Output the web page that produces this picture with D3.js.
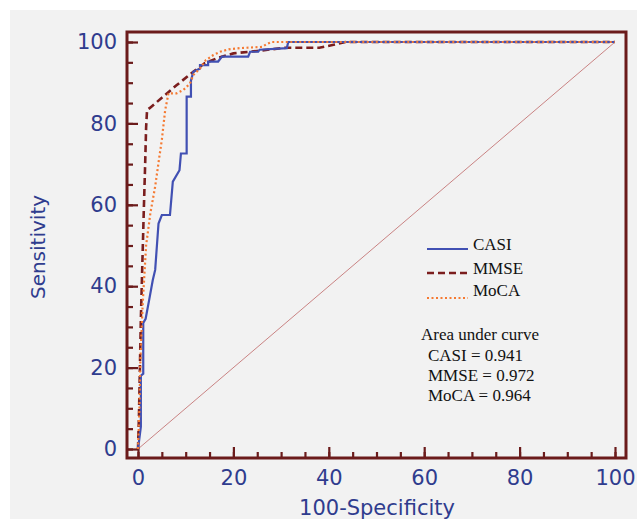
<!DOCTYPE html>
<html lang="en">
<head>
<meta charset="UTF-8">
<title>ROC curves: CASI, MMSE, MoCA</title>
<script src="https://d3js.org/d3.v7.min.js"></script>
<style>
  body { margin: 0; background: #ffffff; }
  .tick text { font-family: "DejaVu Sans", Verdana, sans-serif; font-size: 21px; fill: #2f3c8e; }
  .tick line { stroke: #6b1b1b; stroke-width: 2.2; }
</style>
</head>
<body>
<svg id="chart" width="637" height="519"></svg>
<script>
// 100-specificity (x) and sensitivity (y)
var casiX = [0, 0.6, 0.6, 1.1, 1.1, 1.6, 2.4, 3.1, 3.6, 4.3, 5.0, 6.7, 7.3, 8.7, 9.0, 10.2, 10.2, 11.1, 11.1, 11.6, 13.0, 13.0, 14.7, 14.7, 16.8, 17.6, 23.1, 23.5, 25.2, 25.5, 31.2, 31.5, 100];
var casiY = [0, 5.5, 18, 18.5, 31, 32, 37, 41.5, 44, 55.4, 57.5, 57.5, 65.7, 68.5, 72.6, 72.6, 86.6, 86.6, 90.5, 92.7, 93.5, 94.3, 94.3, 95.2, 95.2, 96.4, 96.4, 97.6, 97.6, 98.1, 98.5, 100, 100];

var mmseX = [0, 0.2, 0.4, 0.6, 0.9, 1.2, 1.5, 1.7, 1.9, 2.5, 5, 8, 11.6, 14, 17, 20, 25, 31, 38, 41, 43.5, 100];
var mmseY = [0, 8, 20, 32, 45, 58, 70, 79, 83.3, 83.8, 86.3, 89.3, 92.7, 94.8, 96.2, 97.2, 97.8, 98.6, 98.6, 99.3, 100, 100];

var mocaX = [0, 0.3, 0.5, 1.0, 1.7, 2.6, 3.6, 4.5, 5.0, 5.7, 6.4, 8.1, 9.5, 10.9, 11.6, 13.0, 14.2, 15.8, 17.2, 19.0, 21.4, 26, 27, 28, 100];
var mocaY = [0, 10, 22, 36, 50, 58, 64.5, 72, 76, 83.3, 87.4, 87.4, 88.2, 89.8, 91.9, 93.5, 95.5, 96.8, 97.6, 98.2, 98.5, 98.8, 99.5, 100, 100];

var seriesNames = ["CASI", "MMSE", "MoCA"];
var aucValues = ["0.941", "0.972", "0.964"];
var majorTicks = [0, 20, 40, 60, 80, 100];
var minorTicks = d3.range(0, 101, 5);

var svg = d3.select("#chart");

// grey backdrop
svg.append("rect")
  .attr("x", 10).attr("y", 10)
  .attr("width", 627).attr("height", 509)
  .attr("fill", "#f2f2f2");

var x = d3.scaleLinear().domain([0, 100]).range([138, 615]);
var y = d3.scaleLinear().domain([0, 100]).range([449, 42]);

var frame = { left: 127, top: 32, right: 626, bottom: 458 };

// minor ticks
svg.append("g")
  .attr("transform", "translate(" + frame.left + ",0)")
  .call(d3.axisLeft(y).tickValues(minorTicks).tickSize(-6).tickFormat(""))
  .call(function (g) { g.select(".domain").remove(); });
svg.append("g")
  .attr("transform", "translate(0," + frame.bottom + ")")
  .call(d3.axisBottom(x).tickValues(minorTicks).tickSize(-6).tickFormat(""))
  .call(function (g) { g.select(".domain").remove(); });

// major ticks with labels
svg.append("g")
  .attr("transform", "translate(" + frame.left + ",0)")
  .call(d3.axisLeft(y).tickValues(majorTicks).tickSize(-11).tickPadding(10))
  .call(function (g) { g.select(".domain").remove(); });
svg.append("g")
  .attr("transform", "translate(0," + frame.bottom + ")")
  .call(d3.axisBottom(x).tickValues(majorTicks).tickSize(-11).tickPadding(12))
  .call(function (g) { g.select(".domain").remove(); });

// chance diagonal
svg.append("line")
  .attr("x1", x(0)).attr("y1", y(0))
  .attr("x2", x(100)).attr("y2", y(100))
  .attr("stroke", "#c98383")
  .attr("stroke-width", 1);

var line = d3.line()
  .x(function (d) { return x(d[0]); })
  .y(function (d) { return y(d[1]); });

function pairs(xs, ys) {
  return xs.map(function (v, i) { return [v, ys[i]]; });
}

var styles = {
  CASI: { color: "#4150b3", width: 2.2, dash: null },
  MMSE: { color: "#7b1e1e", width: 2.6, dash: "7,4" },
  MoCA: { color: "#f57a32", width: 2.2, dash: "2,2.5" }
};

var curves = { CASI: pairs(casiX, casiY), MMSE: pairs(mmseX, mmseY), MoCA: pairs(mocaX, mocaY) };

["MMSE", "CASI", "MoCA"].forEach(function (name) {
  svg.append("path")
    .datum(curves[name])
    .attr("d", line)
    .attr("fill", "none")
    .attr("stroke", styles[name].color)
    .attr("stroke-width", styles[name].width)
    .attr("stroke-dasharray", styles[name].dash);
});

// frame
svg.append("rect")
  .attr("x", frame.left).attr("y", frame.top)
  .attr("width", frame.right - frame.left)
  .attr("height", frame.bottom - frame.top)
  .attr("fill", "none")
  .attr("stroke", "#6b1b1b")
  .attr("stroke-width", 3);

// axis titles
svg.append("text")
  .attr("x", 377).attr("y", 515)
  .attr("text-anchor", "middle")
  .style("font-family", "'DejaVu Sans', Verdana, sans-serif")
  .style("font-size", "21px")
  .attr("fill", "#2f3c8e")
  .text("100-Specificity");

svg.append("text")
  .attr("transform", "translate(45,247) rotate(-90)")
  .attr("text-anchor", "middle")
  .style("font-family", "'DejaVu Sans', Verdana, sans-serif")
  .style("font-size", "20px")
  .attr("fill", "#2f3c8e")
  .text("Sensitivity");

// legend
var legendY = [249, 273, 298];
var legend = svg.append("g");
seriesNames.forEach(function (name, i) {
  legend.append("line")
    .attr("x1", 427).attr("x2", 468)
    .attr("y1", legendY[i]).attr("y2", legendY[i])
    .attr("stroke", styles[name].color)
    .attr("stroke-width", styles[name].width)
    .attr("stroke-dasharray", styles[name].dash);
  legend.append("text")
    .attr("x", 473).attr("y", legendY[i] + 1 - (i === 2 ? 3 : 0))
    .style("font-family", "'Liberation Serif', 'Times New Roman', serif")
    .style("font-size", "17px")
    .attr("fill", "#111")
    .text(name);
});

// area under curve block
var auc = svg.append("g")
  .style("font-family", "'Liberation Serif', 'Times New Roman', serif")
  .style("font-size", "17px")
  .attr("fill", "#111");
auc.append("text").attr("x", 421).attr("y", 340).text("Area under curve");
seriesNames.forEach(function (name, i) {
  auc.append("text")
    .attr("x", 428).attr("y", 361 + i * 20)
    .text(name + " = " + aucValues[i]);
});
</script>
</body>
</html>
